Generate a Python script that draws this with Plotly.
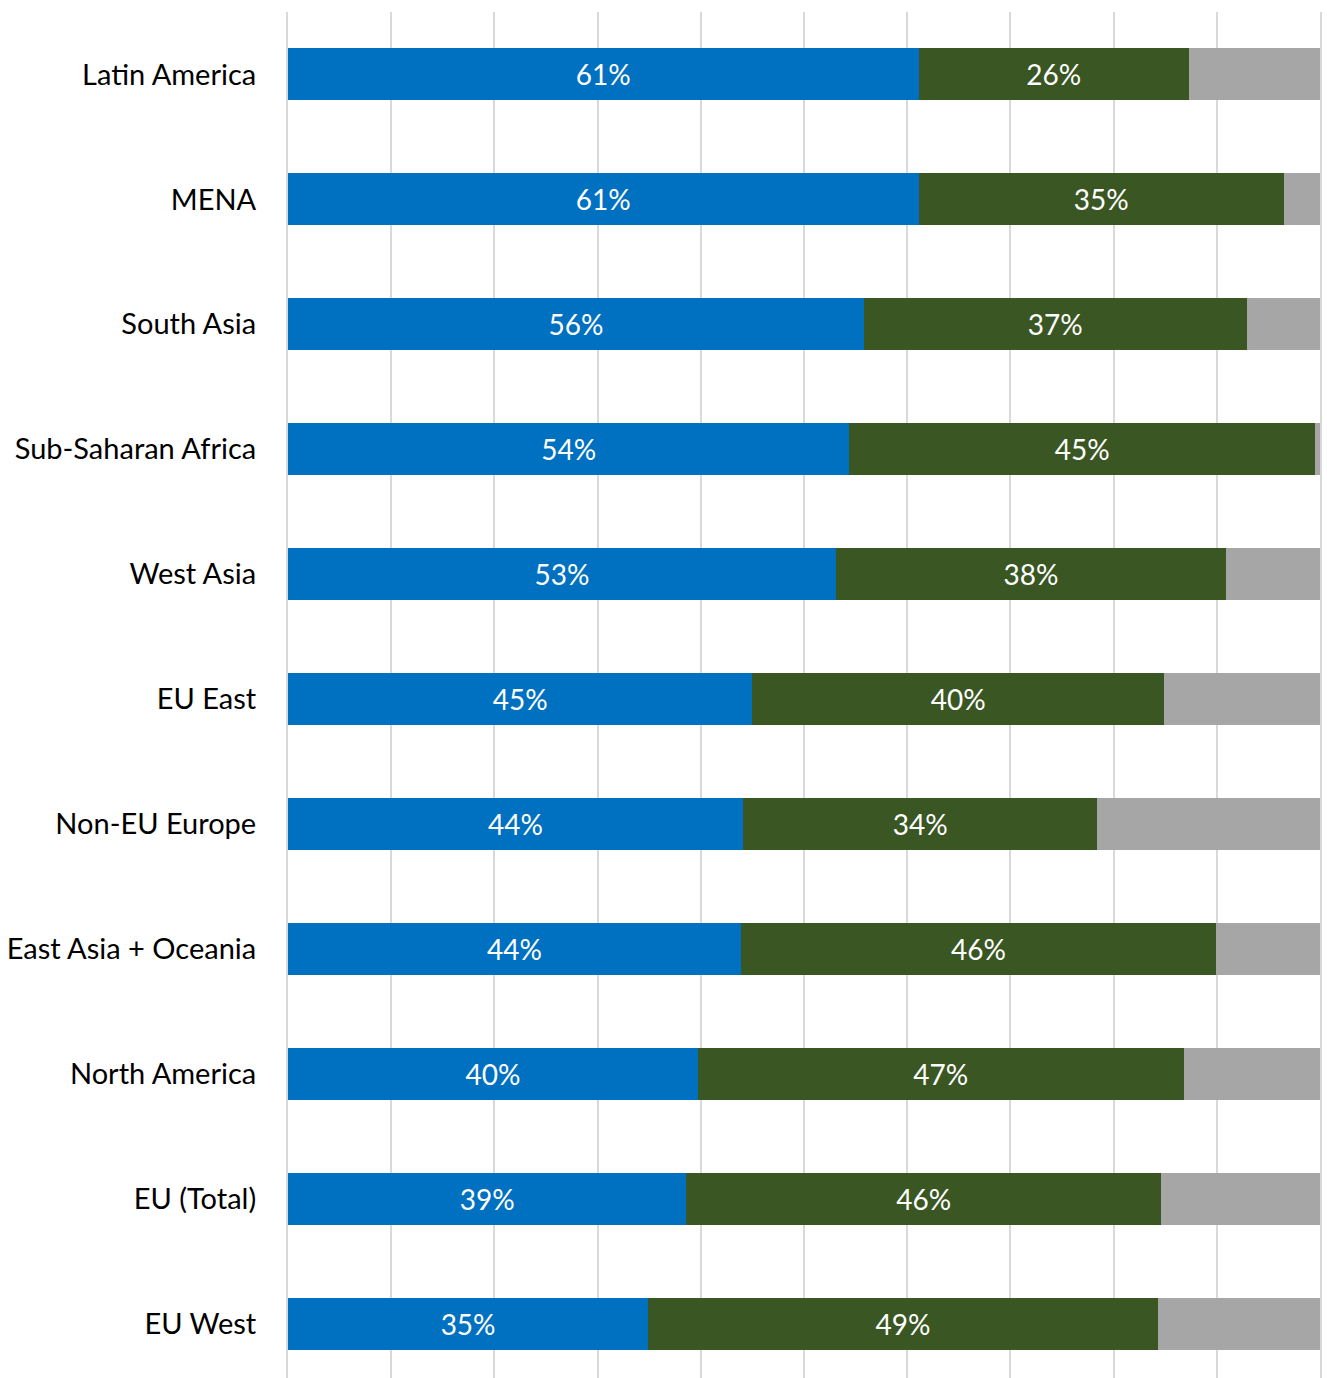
import plotly.graph_objects as go

# categories listed bottom -> top
regions = ["EU West", "EU (Total)", "North America", "East Asia + Oceania", "Non-EU Europe",
           "EU East", "West Asia", "Sub-Saharan Africa", "South Asia", "MENA", "Latin America"]
blue_vals = [34.9, 38.6, 39.7, 43.9, 44.1, 45.0, 53.1, 54.4, 55.8, 61.1, 61.1]
green_vals = [49.4, 46.0, 47.1, 46.0, 34.3, 39.9, 37.8, 45.1, 37.1, 35.4, 26.2]
gray_vals = [15.7, 15.4, 13.2, 10.1, 21.6, 15.1, 9.1, 0.5, 7.1, 3.5, 12.7]

BLUE = "#0070C0"
GREEN = "#3A5623"
GRAY = "#A6A6A6"
GRID = "#D9D9D9"
FONT = "Lato"

fig = go.Figure()
for vals, col, show in [(blue_vals, BLUE, True), (green_vals, GREEN, True), (gray_vals, GRAY, False)]:
    fig.add_trace(go.Bar(
        y=regions, x=vals, orientation="h",
        marker=dict(color=col, line=dict(width=0)),
        texttemplate="%{x:.0f}%" if show else "",
        textposition="inside" if show else "none",
        insidetextanchor="middle",
        textfont=dict(family=FONT, size=28, color="white"),
        hoverinfo="skip",
    ))

fig.update_layout(
    barmode="stack",
    bargap=0.584,
    width=1327, height=1378,
    margin=dict(l=288, r=7, t=12, b=0),
    plot_bgcolor="white", paper_bgcolor="white",
    showlegend=False,
    uniformtext=dict(mode=False),
    xaxis=dict(range=[0, 100], dtick=10, tick0=0, showgrid=True, gridcolor=GRID, gridwidth=2,
               showticklabels=False, zeroline=False, showline=False, fixedrange=True),
    yaxis=dict(range=[-0.436, 10.5], showgrid=False, zeroline=False,
               showline=True, mirror=True, linecolor=GRID, linewidth=2,
               ticks="", ticklabelstandoff=24, fixedrange=True,
               tickfont=dict(family=FONT, size=29, color="black")),
)

fig.write_html("out.html", config={"displayModeBar": False},
               post_script="document.body.style.margin='0';document.body.style.overflow='hidden';")
